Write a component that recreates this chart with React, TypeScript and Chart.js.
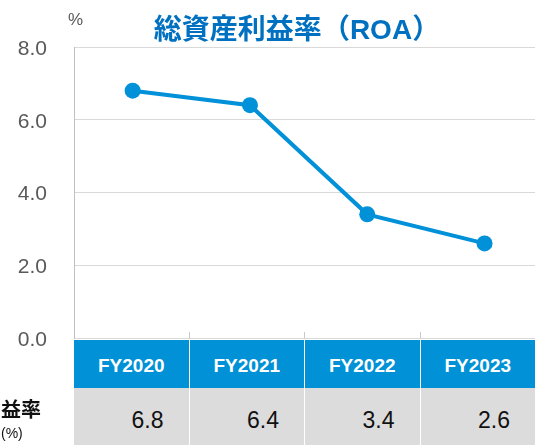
import React, { useEffect, useRef } from "react";
import { Chart, registerables } from "chart.js";

Chart.register(...registerables);

const categories = ["FY2020", "FY2021", "FY2022", "FY2023"];
const roaValues = [6.8, 6.4, 3.4, 2.6];
const yTickValues = [0, 2, 4, 6, 8];
const titleMain = "総資産利益率";
const titleAbbr = "ROA";
const unitLabel = "%";
const rowLabel = "益率";
const rowUnit = "(%)";

const LINE_BLUE = "#0091D9";
const HEADER_BLUE = "#0091D6";
const TITLE_BLUE = "#0070C0";
const ROW_GRAY = "#DCDCDC";

export default function App() {
  const canvasRef = useRef<HTMLCanvasElement | null>(null);

  useEffect(() => {
    const canvas = canvasRef.current;
    if (!canvas) return;
    const chart = new Chart(canvas, {
      type: "line",
      data: {
        datasets: [
          {
            label: "ROA",
            data: roaValues.map((v, i) => ({ x: i, y: v })),
            borderColor: LINE_BLUE,
            backgroundColor: LINE_BLUE,
            borderWidth: 4,
            pointRadius: 8,
            pointHoverRadius: 8,
            pointBackgroundColor: LINE_BLUE,
            pointBorderWidth: 0,
            tension: 0,
            clip: false as any,
          },
        ],
      },
      options: {
        animation: false,
        responsive: false,
        devicePixelRatio: 1,
        layout: { autoPadding: false, padding: { top: 47, bottom: 22, left: 0, right: 0 } },
        plugins: {
          legend: { display: false },
          tooltip: { enabled: false },
          title: { display: false },
        },
        scales: {
          x: {
            type: "linear",
            display: false,
            min: -0.5,
            max: 3.43,
          },
          y: {
            min: 0,
            max: 8,
            afterFit: (scale: any) => {
              scale.width = 74;
              scale.paddingTop = 0;
              scale.paddingBottom = 0;
            },
            afterBuildTicks: (scale: any) => {
              scale.ticks = yTickValues.map((v) => ({ value: v }));
            },
            ticks: {
              padding: 27,
              labelOffset: 2,
              color: "#595959",
              font: { family: "'Liberation Sans', Arial, sans-serif", size: 21 },
              callback: (v: any) => Number(v).toFixed(1),
            },
            grid: {
              color: "#D9D9D9",
              lineWidth: 1,
              drawTicks: false,
            },
            border: { display: true, color: "#BFBFBF", width: 1 },
          },
        },
      },
    });
    return () => chart.destroy();
  }, []);

  const cellFont = "'Liberation Sans', Arial, sans-serif";

  return (
    <div style={{ position: "relative", width: 535, height: 445, overflow: "hidden", background: "#fff" }}>
      <style>{`body{margin:0;}`}</style>
      <canvas
        ref={canvasRef}
        width={535}
        height={360}
        style={{ position: "absolute", left: 0, top: 0, width: 535, height: 360 }}
      />
      <div
        style={{
          position: "absolute",
          left: 0,
          width: 594,
          top: 11,
          textAlign: "center",
          fontFamily: "'Noto Sans CJK JP', sans-serif",
          fontWeight: 700,
          fontSize: 28,
          lineHeight: "32px",
          color: TITLE_BLUE,
          whiteSpace: "nowrap",
        }}
      >
        {titleMain}（<span style={{ fontFamily: cellFont, fontSize: 28 }}>{titleAbbr}</span>）
      </div>
      <div
        style={{
          position: "absolute",
          left: 68,
          top: 10,
          fontFamily: cellFont,
          fontSize: 17,
          color: "#595959",
        }}
      >
        {unitLabel}
      </div>
      <div style={{ position: "absolute", left: 0, top: 340, width: 535 }}>
        <div style={{ display: "flex", height: 48 }}>
          <div style={{ width: 74, flex: "none" }} />
          {categories.map((c, i) => (
            <div
              key={c}
              style={{
                flex: 1,
                position: "relative",
                background: HEADER_BLUE,
                borderLeft: i > 0 ? "1px solid #fff" : "none",
                color: "#fff",
                fontFamily: cellFont,
                fontWeight: 700,
                fontSize: 19,
                display: "flex",
                alignItems: "center",
                justifyContent: "center",
                paddingTop: 4,
                boxSizing: "border-box",
              }}
            >
              {i > 0 && (
                <div
                  style={{
                    position: "absolute",
                    left: -1,
                    top: -8,
                    width: 1,
                    height: 6,
                    background: "#C8C8C8",
                  }}
                />
              )}
              {c}
            </div>
          ))}
        </div>
        <div style={{ display: "flex", height: 57 }}>
          <div style={{ width: 74, flex: "none", position: "relative", background: "#fff" }}>
            <div
              style={{
                position: "absolute",
                left: 1,
                top: 9,
                fontFamily: "'Noto Sans CJK JP', sans-serif",
                fontWeight: 700,
                fontSize: 20,
                lineHeight: "24px",
                color: "#111",
              }}
            >
              {rowLabel}
            </div>
            <div
              style={{
                position: "absolute",
                left: 1,
                top: 37,
                fontFamily: cellFont,
                fontSize: 14,
                lineHeight: "16px",
                color: "#111",
              }}
            >
              {rowUnit}
            </div>
          </div>
          {roaValues.map((v, i) => (
            <div
              key={i}
              style={{
                flex: 1,
                background: ROW_GRAY,
                borderLeft: i > 0 ? "1px solid #fff" : "none",
                color: "#111",
                fontFamily: cellFont,
                fontSize: 23,
                display: "flex",
                alignItems: "center",
                justifyContent: "flex-end",
                paddingRight: 25,
                paddingTop: 8,
                boxSizing: "border-box",
              }}
            >
              {v.toFixed(1)}
            </div>
          ))}
        </div>
      </div>
    </div>
  );
}
